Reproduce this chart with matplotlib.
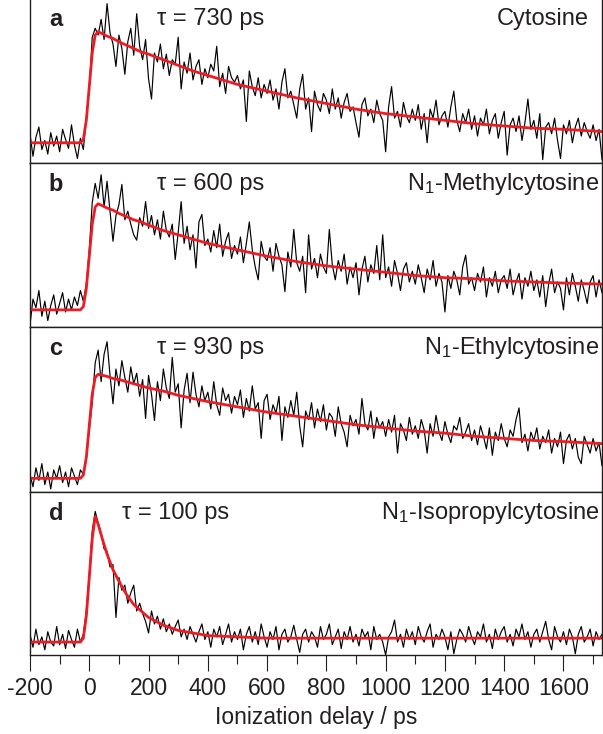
import numpy as np
import matplotlib.pyplot as plt

plt.rcParams['font.family'] = ['Liberation Sans', 'DejaVu Sans']
plt.rcParams['mathtext.fontset'] = 'custom'
plt.rcParams['mathtext.rm'] = 'Liberation Sans'
plt.rcParams['mathtext.it'] = 'Liberation Sans:italic'
plt.rcParams['axes.unicode_minus'] = False

# ionization delay of the measured traces (ps), 10 ps steps
delay = np.arange(-200, 1731, 10)

# signal, baseline = 0, fit maximum = 100
cyt = [8, -12, 5, 14, -6, 2, -10, 9, -3, 6,
       -8, 12, 3, -5, 16, -2, -14, 4, -6, 22,
       48, 94, 102, 96, 110, 92, 124, 98, 88, 68,
       96, 84, 61, 90, 102, 78, 115, 86, 74, 92,
       57, 39, 80, 72, 88, 66, 79, 60, 74, 70,
       94, 48, 72, 62, 80, 56, 68, 74, 52, 66,
       58, 70, 64, 86, 50, 62, 44, 68, 58, 54,
       60, 48, 56, 19, 64, 50, 42, 58, 40, 52,
       44, 56, 38, 48, 30, 54, 66, 40, 46, 34,
       22, 48, 61, 30, 40, 10, 46, 34, 28, 44,
       38, 26, 48, 30, 40, 22, 36, 44, 28, 32,
       18, 5, 34, 40, 24, 30, 18, 38, 26, 20,
       -8, 32, 50, 22, 28, 14, 36, 24, 18, 30,
       20, 34, 12, 26, 0, 30, 22, 38, 16, 24,
       28, 14, 32, 46, 20, 10, 26, 18, 30, 12,
       24, 6, 22, 16, 30, 8, 20, 26, 4, 18,
       28, -11, 16, 22, 10, 24, 2, 18, 39, 12,
       20, 4, 26, -15, 14, 18, 8, 22, 2, -14,
       16, 8, 20, 0, 14, 22, 6, 18, 10, 4,
       16, 2, 12, -15]

methyl = [-14, 10, 2, 18, -6, 8, -10, 4, 14, -4,
          6, 16, -2, 10, 0, 12, 4, 18, 8, 24,
          56, 100, 118, 104, 126, 96, 120, 92, 64, 88,
          98, 117, 84, 92, 80, 70, 65, 86, 78, 101,
          76, 88, 70, 84, 66, 92, 74, 68, 80, 47,
          72, 101, 62, 78, 56, 70, 39, 82, 89, 60,
          66, 54, 74, 58, 80, 50, 64, 72, 48, 60,
          52, 68, 44, 62, 82, 56, 40, 28, 64, 50,
          46, 58, 36, 62, 50, 42, 17, 54, 40, 75,
          44, 36, 50, 16, 70, 38, 48, 30, 52, 40,
          34, 75, 42, 28, 46, 36, 52, 24, 40, 30,
          44, 14, 38, 50, 26, 42, 34, 60, 28, 70,
          30, 40, 22, 46, 34, 18, 38, 44, 26, 36,
          24, 42, 30, 16, 38, 28, 46, 22, 34, 26,
          -2, 32, 20, 36, 28, 14, 40, 51, 24, 30,
          18, 34, 26, 40, 12, 30, 22, 36, 16, 28,
          32, 20, 38, 14, 26, 34, 10, 30, 22, 36,
          18, 28, 12, 32, 3, 24, 38, 16, 26, 20,
          0, 30, 14, 34, 22, 8, 28, 18, 6, 26,
          32, 12, 28, 16]

ethyl = [4, -8, 10, -2, 14, -6, 6, -10, 8, 0,
         12, -4, 6, -8, 10, 2, -6, 8, 4, 18,
         46, 72, 110, 122, 92, 118, 130, 98, 71, 104,
         88, 112, 96, 82, 106, 90, 100, 78, 94, 57,
         98, 80, 55, 92, 74, 104, 86, 76, 115, 82,
         90, 48, 84, 100, 72, 101, 80, 68, 88, 74,
         82, 66, 92, 70, 60, 86, 74, 80, 62, 78,
         70, 84, 58, 76, 64, 88, 66, 72, 38, 74,
         80, 56, 70, 62, 78, 36, 68, 58, 74, 60,
         82, 50, 30, 64, 56, 72, 48, 66, 54, 70,
         46, 62, 58, 40, 68, 52, 44, 30, 60, 50,
         56, 42, 76, 52, 46, 64, 38, 58, 48, 54,
         40, 56, 44, 60, 24, 52, 46, 36, 58, 42,
         50, 38, 56, 46, 24, 52, 40, 60, 44, 36,
         54, 42, 34, 50, 46, 58, 38, 44, 52, 36,
         46, 32, 50, 40, 28, 48, 22, 44, 36, 52,
         38, 30, 46, 40, 56, 67, 34, 42, 26, 44,
         36, 48, 28, 40, 34, 46, 24, 38, 30, 44,
         14, 36, 42, 28, 38, 20, 14, 40, 32, 24,
         38, 26, 34, 12]

isopropyl = [6, -4, 10, -2, 4, -6, 8, 0, -3, 12,
             -2, 6, -5, 9, 2, -4, 10, 0, 6, 24,
             52, 86, 101, 92, 84, 72, 70, 58, 60, 19,
             50, 40, 44, 30, 38, 44, 24, 30, 22, 16,
             7, 24, 14, 20, 10, 18, 8, 14, 6, 12,
             17, 4, 10, 2, 12, 6, 0, 8, 14, 2,
             8, -4, 10, 4, 12, -2, 6, 14, 0, 8,
             2, 10, -6, 6, 12, 0, 8, -2, 14, 4,
             -4, 8, 2, 12, -6, 6, 10, 0, 4, 13,
             2, -8, 6, 10, 0, 8, 4, -4, 12, 2,
             6, 14, -2, 4, 10, -5, 8, 2, 12, 0,
             6, -3, 10, 4, 8, -6, 12, 2, 6, 0,
             -10, 4, 8, 17, 0, 6, -4, 10, 2, 8,
             -2, 12, 4, 0, 8, 14, -4, 6, 2, 10,
             4, -6, 8, -9, 2, 10, 6, 0, 12, 4,
             -2, 8, 4, 14, 0, 6, -5, 10, 2, 8,
             12, 0, 6, -3, 10, 4, 14, 2, 8, -4,
             6, 10, 0, 8, 16, 2, -6, 12, 4, 0,
             8, -2, 10, 4, -9, 6, 12, 0, 4, 10,
             -3, 8, 2, 6]

# fitted curves (red), read at these delays
fit_t = [-200, -30, -20, -10, 0, 10, 20, 30, 45, 60, 80, 100, 125, 150, 175, 200,
         250, 300, 350, 400, 500, 600, 700, 800, 900, 1000, 1100, 1200, 1300,
         1400, 1500, 1600, 1730]
cyt_fit = [0, 0, 3, 20, 50, 80, 96, 99, 97, 95, 93, 90, 87, 84, 81, 79,
           74, 69, 64, 60, 52, 46, 40, 35, 30, 26, 23, 20, 17, 15, 13, 12, 10]
methyl_fit = [0, 0, 3, 20, 50, 80, 96, 99, 97, 95, 93, 90, 87, 84, 82, 79,
              74, 70, 66, 62, 56, 50, 45, 41, 38, 35, 32, 30, 29, 27, 26, 25, 24]
ethyl_fit = [0, 0, 3, 20, 50, 80, 96, 99, 98, 97, 95, 94, 92, 90, 88, 86,
             83, 79, 76, 73, 68, 63, 59, 55, 51, 48, 45, 43, 40, 38, 36, 35, 33]
isopropyl_fit = [0, 0, 3, 20, 50, 80, 97, 91, 79, 68, 56, 47, 37, 29, 24, 19,
                 13, 9, 7, 5, 4, 3, 3, 3, 3, 3, 3, 3, 3, 3, 3, 3, 3]

letters = ['a', 'b', 'c', 'd']
taus = [730, 600, 930, 100]
names = ['Cytosine', r'N$_\mathregular{1}$-Methylcytosine',
         r'N$_\mathregular{1}$-Ethylcytosine', r'N$_\mathregular{1}$-Isopropylcytosine']
traces = [cyt, methyl, ethyl, isopropyl]
fits = [cyt_fit, methyl_fit, ethyl_fit, isopropyl_fit]
ylims = [(-18, 129), (-16, 137), (-13, 144), (-10, 116)]

ink = '#231f20'
red = '#ec1c24'
W, H = 603, 734
boxes = [(571, 165), (407, 164), (242, 165), (79, 163)]  # bottom, height in px
tau_x = [0.222, 0.222, 0.222, 0.161]
name_x = [0.976, 0.995, 0.995, 0.995]

fig = plt.figure(figsize=(W / 100, H / 100), dpi=100)
for i in range(4):
    b, h = boxes[i]
    ax = fig.add_axes([30 / W, b / H, 572 / W, h / H])
    ax.plot(delay, traces[i], color='black', lw=0.85)
    ax.plot(fit_t, fits[i], color=red, lw=2.0)
    ax.set_xlim(-200, 1730)
    ax.set_ylim(*ylims[i])
    ax.set_yticks([])
    for s in ax.spines.values():
        s.set_color(ink)
        s.set_linewidth(1.0)
    ax.text(0.033, 0.87, letters[i], transform=ax.transAxes, fontsize=17,
            fontweight='bold', color=ink, ha='left', va='center')
    ax.text(tau_x[i], 0.87, '\u03c4 = %d ps' % taus[i], transform=ax.transAxes,
            fontsize=17, color=ink, ha='left', va='center')
    ax.text(name_x[i], 0.87, names[i], transform=ax.transAxes, fontsize=17,
            color=ink, ha='right', va='center')
    if i < 3:
        ax.set_xticks([])
    else:
        ax.set_xticks(range(-200, 1601, 200))
        ax.set_xticks(range(-100, 1701, 200), minor=True)
        ax.tick_params(axis='x', which='major', direction='out', length=11.5,
                       width=0.8, color=ink, labelsize=16.5, labelcolor=ink, pad=4)
        ax.tick_params(axis='x', which='minor', direction='out', length=6.5,
                       width=0.8, color=ink)
        ax.set_xlabel('Ionization delay / ps', fontsize=16.5, color=ink, labelpad=5)

fig.savefig('out.png', dpi=100)
